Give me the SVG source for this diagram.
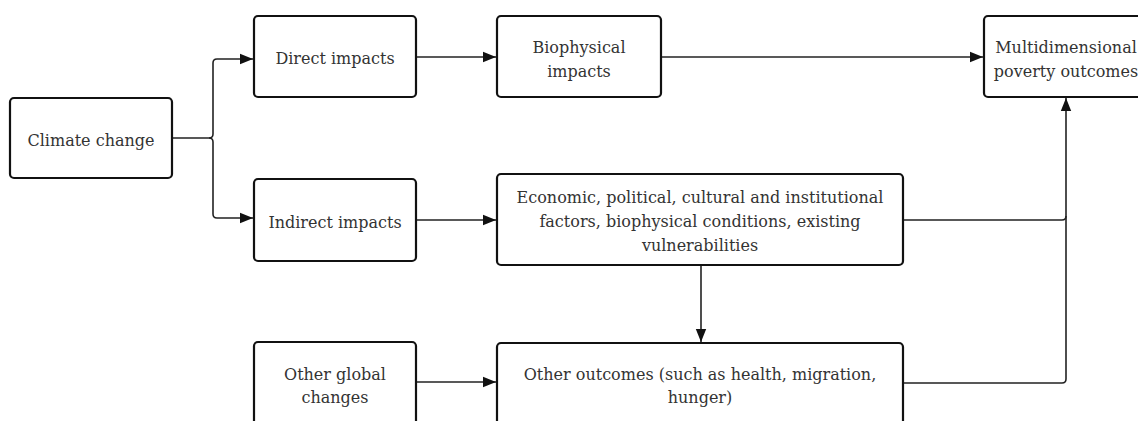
<svg xmlns="http://www.w3.org/2000/svg" width="1138" height="421" viewBox="0 0 1138 421">
<defs>
<style>
.box{fill:#fff;stroke:#111;stroke-width:2.2}
.t{font-family:"DejaVu Serif","Liberation Serif",serif;font-size:16px;fill:#333;text-anchor:middle}
.c{fill:none;stroke:#222;stroke-width:1.6}
</style>
<marker id="ah" viewBox="0 0 10 10" refX="10" refY="5" markerWidth="13" markerHeight="13" markerUnits="userSpaceOnUse" orient="auto">
<path d="M0,1 L10,5 L0,9 Z" fill="#111"/>
</marker>
</defs>
<rect width="1138" height="421" fill="#fff"/>
<g id="connectors">
<path class="c" d="M172,138 H209 Q213,138 213,134 V63 Q213,59 217,59 H253" marker-end="url(#ah)"/>
<path class="c" d="M209,138 Q213,138 213,142 V214 Q213,218 217,218 H253" marker-end="url(#ah)"/>
<path class="c" d="M416,57 H496" marker-end="url(#ah)"/>
<path class="c" d="M661,57 H983" marker-end="url(#ah)"/>
<path class="c" d="M416,220 H496" marker-end="url(#ah)"/>
<path class="c" d="M416,382 H496" marker-end="url(#ah)"/>
<path class="c" d="M701,265 V342" marker-end="url(#ah)"/>
<path class="c" d="M903,220 H1062 Q1066,220 1066,216 V98" marker-end="url(#ah)"/>
<path class="c" d="M903,383 H1062 Q1066,383 1066,379 V216"/>
</g>
<g id="climate"><rect class="box" x="10" y="98" width="162" height="80" rx="4"/><text class="t" x="91" y="146">Climate change</text></g>
<g id="direct"><rect class="box" x="254" y="16" width="162" height="81" rx="4"/><text class="t" x="335" y="64">Direct impacts</text></g>
<g id="indirect"><rect class="box" x="254" y="179" width="162" height="82" rx="4"/><text class="t" x="335" y="228">Indirect impacts</text></g>
<g id="otherglobal"><rect class="box" x="254" y="342" width="162" height="100" rx="4"/><text class="t" x="335" y="380">Other global</text><text class="t" x="335" y="403">changes</text></g>
<g id="biophysical"><rect class="box" x="497" y="16" width="164" height="81" rx="4"/><text class="t" x="579" y="53">Biophysical</text><text class="t" x="579" y="77">impacts</text></g>
<g id="economic"><rect class="box" x="497" y="174" width="406" height="91" rx="4"/><text class="t" x="700" y="203">Economic, political, cultural and institutional</text><text class="t" x="700" y="227">factors, biophysical conditions, existing</text><text class="t" x="700" y="251">vulnerabilities</text></g>
<g id="otheroutcomes"><rect class="box" x="497" y="343" width="406" height="100" rx="4"/><text class="t" x="700" y="380">Other outcomes (such as health, migration,</text><text class="t" x="700" y="403">hunger)</text></g>
<g id="multidimensional"><rect class="box" x="984" y="16" width="164" height="81" rx="4"/><text class="t" x="1066" y="53">Multidimensional</text><text class="t" x="1066" y="77">poverty outcomes</text></g>
</svg>
